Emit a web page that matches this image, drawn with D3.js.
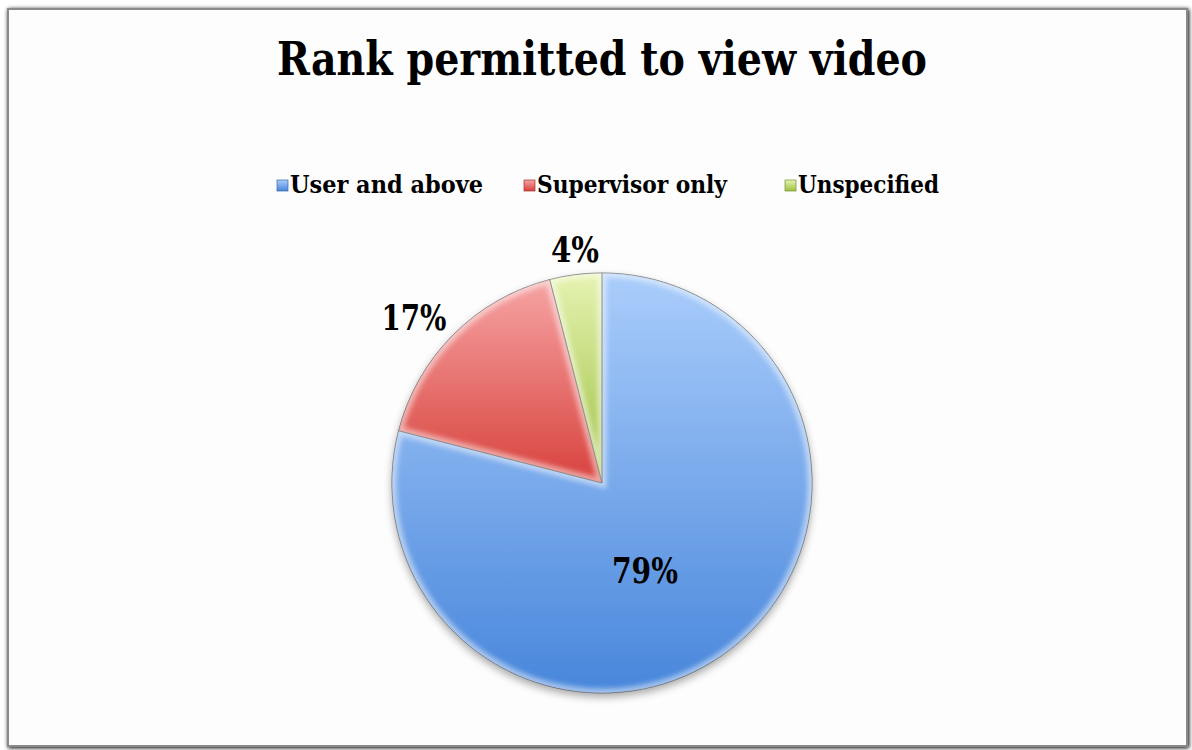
<!DOCTYPE html>
<html><head><meta charset="utf-8">
<script src="https://cdn.jsdelivr.net/npm/d3@7/dist/d3.min.js"></script>
<style>body{margin:0;background:#fff;}svg{display:block;}</style>
</head><body>
<svg id="chart" width="1192" height="750"></svg>
<script>
const categories = ["User and above", "Supervisor only", "Unspecified"];
const values = [79, 17, 4];
const labels = ["79%", "17%", "4%"];
const topColors = ["#aacdfb", "#f6a4a4", "#e6f3b2"];
const bottomColors = ["#4886db", "#d8423d", "#9cc040"];
const title = "Rank permitted to view video";

const W = 1192, H = 750;
const svg = d3.select("#chart");
const font = "'DejaVu Serif Condensed','DejaVu Serif',serif";
const defs = svg.append("defs");

// frame shadow
const fs = defs.append("filter").attr("id","fshadow").attr("x","-5%").attr("y","-5%").attr("width","110%").attr("height","110%");
fs.append("feGaussianBlur").attr("in","SourceAlpha").attr("stdDeviation",2);
fs.append("feOffset").attr("dx",1).attr("dy",1).attr("result","b");
const fm = fs.append("feMerge"); fm.append("feMergeNode").attr("in","b"); fm.append("feMergeNode").attr("in","SourceGraphic");

svg.append("rect").attr("x",8).attr("y",9).attr("width",1179).attr("height",737)
  .attr("fill","#fdfdfd").attr("stroke","#8a8a8a").attr("stroke-width",2).attr("filter","url(#fshadow)");

// title
svg.append("text").attr("x",602).attr("y",75).attr("text-anchor","middle")
  .attr("font-family",font).attr("font-weight","bold").attr("font-size",46)
  .attr("textLength",650).attr("lengthAdjust","spacingAndGlyphs").text(title);

// gradients (per-element bounding box)
categories.forEach((c,i)=>{
  const g = defs.append("linearGradient").attr("id","lg"+i).attr("x1",0).attr("y1",0).attr("x2",0).attr("y2",1);
  g.append("stop").attr("offset","0%").attr("stop-color",topColors[i]);
  g.append("stop").attr("offset","100%").attr("stop-color",bottomColors[i]);
});

// legend
const legX = [277, 524, 785];
const legTextW = [193, 190, 141];
categories.forEach((c,i)=>{
  svg.append("rect").attr("x",legX[i]).attr("y",180).attr("width",11).attr("height",11)
    .attr("fill","url(#lg"+i+")").attr("stroke",d3.color(bottomColors[i]).darker(0.8)).attr("stroke-width",0.7);
  svg.append("text").attr("x",legX[i]+13).attr("y",193).attr("font-family",font).attr("font-weight","bold")
    .attr("font-size",24).attr("textLength",legTextW[i]).attr("lengthAdjust","spacingAndGlyphs").text(c);
});

// pie
const cx = 602, cy = 483, R = 210;
const pie = d3.pie().sort(null).value(d=>d);
const arcs = pie(values);
const arc = d3.arc().innerRadius(0).outerRadius(R);

const ps = defs.append("filter").attr("id","pshadow").attr("x","-10%").attr("y","-10%").attr("width","120%").attr("height","125%");
ps.append("feGaussianBlur").attr("in","SourceAlpha").attr("stdDeviation",4);
ps.append("feOffset").attr("dx",0).attr("dy",4).attr("result","b");
ps.append("feComponentTransfer").attr("in","b").attr("result","c").append("feFuncA").attr("type","linear").attr("slope",0.35);
const pm = ps.append("feMerge"); pm.append("feMergeNode").attr("in","c"); pm.append("feMergeNode").attr("in","SourceGraphic");

const bevel = defs.append("filter").attr("id","bevel");
bevel.append("feGaussianBlur").attr("stdDeviation",2.5);

const pg = svg.append("g").attr("transform",`translate(${cx},${cy})`);
const shadowG = pg.append("g").attr("filter","url(#pshadow)");
shadowG.selectAll("path").data(arcs).join("path")
  .attr("d",arc).attr("fill",(d,i)=>`url(#lg${i})`);

// inner bevel highlight
arcs.forEach((d,i)=>{
  const cp = defs.append("clipPath").attr("id","sc"+i);
  cp.append("path").attr("d",arc(d)).attr("transform",`translate(${cx},${cy})`);
});
arcs.forEach((d,i)=>{
  svg.append("g").attr("clip-path",`url(#sc${i})`).append("path")
    .attr("transform",`translate(${cx},${cy})`)
    .attr("d",arc(d)).attr("fill","none").attr("stroke","#ffffff").attr("stroke-opacity",0.5)
    .attr("stroke-width",9).attr("filter","url(#bevel)");
});
pg.append("g").selectAll("path").data(arcs).join("path")
  .attr("d",arc).attr("fill","none").attr("stroke","#2a2a2a").attr("stroke-opacity",0.6).attr("stroke-width",1);

// data labels
const labelPos = [[645, 583], [414, 330], [575, 262]];
const labelW = [66, 65, 48];
labels.forEach((t,i)=>{
  svg.append("text").attr("x",labelPos[i][0]).attr("y",labelPos[i][1]).attr("text-anchor","middle")
    .attr("font-family",font).attr("font-weight","bold").attr("font-size",35)
    .attr("textLength",labelW[i]).attr("lengthAdjust","spacingAndGlyphs").text(t);
});
</script>
</body></html>
